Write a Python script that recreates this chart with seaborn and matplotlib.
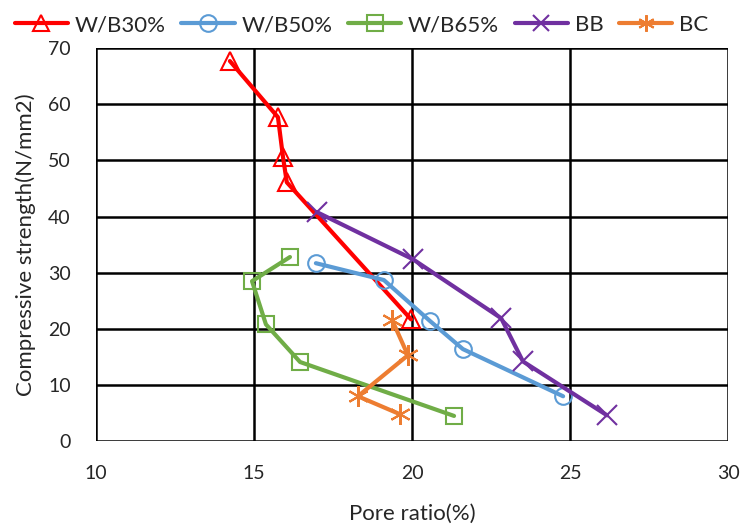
import numpy as np
import pandas as pd
import matplotlib
matplotlib.use('Agg')
import matplotlib.pyplot as plt
import seaborn as sns

# data
series_names = ['W/B30%', 'W/B50%', 'W/B65%', 'BB', 'BC']
wb30_x = [14.24, 15.76, 15.92, 16.04, 19.97]
wb30_y = [67.7, 57.7, 50.6, 46.1, 21.7]
wb50_x = [16.96, 19.11, 20.57, 21.61, 24.78]
wb50_y = [31.7, 28.7, 21.4, 16.4, 8.0]
wb65_x = [16.14, 14.94, 15.38, 16.46, 21.33]
wb65_y = [32.8, 28.5, 20.8, 14.1, 4.5]
bb_x = [16.99, 20.03, 22.82, 23.51, 26.17]
bb_y = [40.8, 32.4, 21.9, 14.2, 4.6]
bc_x = [19.37, 19.87, 18.29, 19.62]
bc_y = [21.6, 15.3, 8.0, 4.8]

xs = [wb30_x, wb50_x, wb65_x, bb_x, bc_x]
ys = [wb30_y, wb50_y, wb65_y, bb_y, bc_y]

colors = ['#FF0000', '#5B9BD5', '#70AD47', '#7030A0', '#ED7D31']
markers = ['^', 'o', 's', 'x', (6, 2, 0)]
msizes = [13, 12, 12, 15, 15]

sns.set_style('white')
plt.rcParams['font.family'] = ['Lato', 'DejaVu Sans']

fig = plt.figure(figsize=(7.43, 5.29), dpi=100)
ax = fig.add_axes([0.129, 0.166, 0.851, 0.743])

for name, x, y, c, m, ms in zip(series_names, xs, ys, colors, markers, msizes):
    df = pd.DataFrame({'x': x, 'y': y})
    sns.lineplot(data=df, x='x', y='y', sort=False, ax=ax, label=name,
                 color=c, linewidth=3, marker=m, markersize=ms,
                 markerfacecolor='none', markeredgecolor=c, markeredgewidth=1.5)

ax.set_xlim(10, 30)
ax.set_ylim(0, 70)
ax.set_xticks(np.arange(10, 31, 5))
ax.set_yticks(np.arange(0, 71, 10))
ax.grid(True, color='black', linewidth=1.8)
ax.set_axisbelow(True)
for s in ax.spines.values():
    s.set_visible(False)
ax.tick_params(labelsize=14, length=0)
ax.tick_params(axis='x', pad=17)
ax.tick_params(axis='y', pad=18)
ax.set_xlabel('Pore ratio(%)', fontsize=16, labelpad=16)
ax.set_ylabel('Compressive strength(N/mm2)', fontsize=16, labelpad=9)

leg = ax.legend(loc='lower center', bbox_to_anchor=(0.42, 1.005), ncol=5, frameon=False,
                fontsize=16, handlelength=2.4, columnspacing=0.7, handletextpad=0.3,
                borderaxespad=0.1)
for h in leg.get_lines():
    h.set_markersize(12)

fig.savefig('out.png', dpi=100)
